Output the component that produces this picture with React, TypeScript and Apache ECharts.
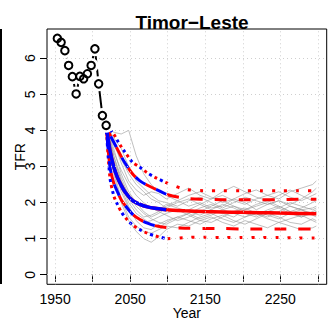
import React, { useEffect, useRef } from "react";
import * as echarts from "echarts";

const obsYears = [1953, 1958, 1963, 1968, 1973, 1978, 1983, 1988, 1993, 1998, 2003, 2008, 2013, 2018];
const obsTFR = [6.55, 6.44, 6.21, 5.8, 5.49, 5.01, 5.5, 5.43, 5.57, 5.8, 6.26, 5.29, 4.41, 4.14];

const qYears = [2018, 2023, 2028, 2033, 2038, 2043, 2053, 2063, 2073, 2083, 2098, 2123, 2148, 2173, 2198, 2223, 2248, 2273, 2298];
const median = [4.14, 3.45, 3.0, 2.7, 2.48, 2.3, 2.06, 1.95, 1.88, 1.84, 1.8, 1.77, 1.75, 1.74, 1.73, 1.72, 1.71, 1.7, 1.69];
const upper80 = [4.14, 3.88, 3.68, 3.48, 3.28, 3.1, 2.8, 2.6, 2.48, 2.38, 2.23, 2.12, 2.09, 2.08, 2.08, 2.08, 2.08, 2.09, 2.09];
const lower80 = [4.14, 3.0, 2.55, 2.3, 2.08, 1.93, 1.68, 1.53, 1.43, 1.36, 1.31, 1.29, 1.28, 1.28, 1.27, 1.27, 1.27, 1.27, 1.27];
const upper95 = [4.14, 4.02, 3.9, 3.72, 3.55, 3.4, 3.12, 2.98, 2.82, 2.7, 2.55, 2.37, 2.33, 2.33, 2.33, 2.33, 2.33, 2.33, 2.33];
const lower95 = [4.14, 2.7, 2.2, 1.95, 1.75, 1.6, 1.38, 1.25, 1.15, 1.08, 1.0, 1.03, 1.04, 1.03, 1.03, 1.03, 1.03, 1.02, 1.02];
const blueEndYear = 2098;

const trajYears = [2018, 2028, 2038, 2048, 2058, 2068, 2078, 2088, 2098, 2113, 2128, 2143, 2158, 2173, 2188, 2203, 2218, 2233, 2248, 2263, 2278, 2293, 2298];
const traj1 = [4.14, 3.95, 3.9, 4.0, 3.3, 2.8, 2.5, 2.3, 2.2, 2.05, 1.9, 2.0, 1.85, 1.9, 2.1, 2.0, 1.8, 1.95, 2.05, 1.9, 1.8, 1.85, 1.9];
const traj2 = [4.14, 3.1, 2.4, 1.9, 1.5, 1.3, 1.25, 1.4, 1.5, 1.6, 1.7, 1.55, 1.65, 1.8, 1.7, 1.6, 1.75, 1.65, 1.55, 1.7, 1.8, 1.7, 1.75];
const traj3 = [4.14, 3.4, 2.9, 2.5, 2.2, 2.0, 1.85, 1.75, 1.9, 2.05, 2.2, 2.3, 2.15, 2.0, 2.1, 2.25, 2.35, 2.2, 2.1, 2.3, 2.4, 2.5, 2.6];
const traj4 = [4.14, 2.8, 2.0, 1.5, 1.2, 1.0, 0.9, 1.05, 1.25, 1.4, 1.35, 1.5, 1.6, 1.45, 1.35, 1.5, 1.4, 1.3, 1.45, 1.35, 1.25, 1.3, 1.35];
const traj5 = [4.14, 3.6, 3.2, 2.8, 2.5, 2.3, 2.1, 2.0, 1.85, 1.75, 1.8, 1.95, 2.1, 2.2, 2.05, 1.95, 2.1, 2.2, 2.3, 2.15, 2.05, 2.2, 2.25];
const traj6 = [4.14, 3.0, 2.3, 1.85, 1.6, 1.45, 1.5, 1.6, 1.7, 1.8, 1.65, 1.5, 1.45, 1.6, 1.75, 1.85, 1.7, 1.6, 1.75, 1.9, 1.8, 1.65, 1.6];
const traj7 = [4.14, 3.3, 2.7, 2.2, 1.9, 1.7, 1.55, 1.45, 1.4, 1.55, 1.7, 1.85, 1.95, 1.8, 1.9, 1.75, 1.65, 1.8, 1.9, 1.75, 1.6, 1.75, 1.8];
const traj8 = [4.14, 3.7, 3.1, 2.6, 2.35, 2.2, 2.3, 2.25, 2.1, 2.25, 2.4, 2.2, 2.1, 2.3, 2.45, 2.3, 2.15, 2.05, 2.2, 2.35, 2.2, 2.05, 2.1];
const traj9 = [4.14, 2.9, 2.1, 1.6, 1.35, 1.2, 1.15, 1.25, 1.35, 1.3, 1.45, 1.6, 1.7, 1.55, 1.45, 1.6, 1.7, 1.55, 1.45, 1.55, 1.65, 1.5, 1.45];
const traj10 = [4.14, 3.2, 2.6, 2.2, 2.0, 1.9, 1.85, 1.8, 1.95, 1.85, 1.75, 1.65, 1.8, 1.95, 1.85, 1.7, 1.6, 1.75, 1.85, 2.0, 1.9, 1.8, 1.85];
const traj11 = [4.14, 3.5, 2.8, 2.3, 2.0, 1.75, 1.6, 1.7, 1.85, 2.0, 2.1, 1.95, 1.8, 1.7, 1.6, 1.8, 1.95, 2.05, 1.9, 1.75, 1.85, 2.0, 2.05];
const traj12 = [4.14, 3.1, 2.5, 2.0, 1.7, 1.55, 1.4, 1.3, 1.45, 1.6, 1.5, 1.4, 1.55, 1.65, 1.5, 1.4, 1.55, 1.7, 1.6, 1.45, 1.4, 1.55, 1.5];
const traj13 = [4.14, 3.8, 3.5, 3.0, 2.6, 2.4, 2.2, 2.05, 2.0, 1.9, 2.05, 2.15, 2.0, 1.85, 2.0, 2.15, 2.05, 1.95, 2.05, 1.95, 2.1, 2.3, 2.4];
const traj14 = [4.14, 3.3, 2.6, 2.1, 1.8, 1.6, 1.65, 1.75, 1.65, 1.5, 1.6, 1.75, 1.9, 2.05, 1.9, 1.8, 1.9, 2.0, 1.85, 1.7, 1.6, 1.7, 1.75];
const trajectories = [traj1, traj2, traj3, traj4, traj5, traj6, traj7, traj8, traj9, traj10, traj11, traj12, traj13, traj14];

const xTicks = [1950, 2000, 2050, 2100, 2150, 2200, 2250, 2300];
const xLabels = [1950, 2050, 2150, 2250];
const yTicks = [0, 1, 2, 3, 4, 5, 6];
const xMin = 1939.2;
const xMax = 2311.8;
const yMin = -0.265;
const yMax = 6.81;

const title = "Timor\u2212Leste";
const font = "'Liberation Sans', Arial, Helvetica, sans-serif";

function pairs(xs: number[], ys: number[], maxX = Infinity) {
  const out: number[][] = [];
  xs.forEach((x, i) => {
    if (x <= maxX) out.push([x, ys[i]]);
  });
  return out;
}

export default function App() {
  const ref = useRef<HTMLDivElement>(null);
  useEffect(() => {
    if (!ref.current) return;
    const chart = echarts.init(ref.current, null, { renderer: "svg" });
    const RED = "#ff0000";
    const BLUE = "#0000ff";
    const dashed = [12, 12];
    const dotted = [3, 9];

    const series: any[] = [];
    series.push({
      type: "line",
      data: [],
      silent: true,
      z: 0,
      markLine: {
        silent: true,
        symbol: "none",
        label: { show: false },
        animation: false,
        lineStyle: { color: "#cfcfcf", type: [1, 3], width: 1 },
        data: [
          ...xTicks.map((v) => ({ xAxis: v })),
          ...yTicks.map((v) => ({ yAxis: v })),
        ],
      },
    });
    trajectories.forEach((t) => {
      series.push({
        type: "line",
        data: pairs(trajYears, t),
        showSymbol: false,
        silent: true,
        z: 1,
        lineStyle: { color: "rgba(150,150,150,0.6)", width: 1 },
      });
    });
    const band = (ys: number[], color: string, type: any, width: number, offset: number, maxX: number, z: number) => ({
      type: "line",
      data: pairs(qYears, ys, maxX),
      showSymbol: false,
      smooth: 0.3,
      silent: true,
      z,
      lineStyle: { color, type, width, dashOffset: offset, cap: "butt" },
    });
    series.push(band(upper95, RED, dotted, 3, 0, Infinity, 2));
    series.push(band(lower95, RED, dotted, 3, 0, Infinity, 2));
    series.push(band(upper80, RED, dashed, 3, 0, Infinity, 2));
    series.push(band(lower80, RED, dashed, 3, 0, Infinity, 2));
    series.push(band(median, RED, "solid", 3.5, 0, Infinity, 2));
    series.push(band(upper95, BLUE, dotted, 3, 6, blueEndYear, 3));
    series.push(band(lower95, BLUE, dotted, 3, 6, blueEndYear, 3));
    series.push(band(upper80, BLUE, dashed, 3, 12, blueEndYear, 3));
    series.push(band(lower80, BLUE, dashed, 3, 12, blueEndYear, 3));
    series.push(band(median, BLUE, "solid", 3.5, 0, blueEndYear, 3));
    // observed: line with gaps around points (R type "b")
    series.push({
      type: "line",
      data: pairs(obsYears, obsTFR),
      showSymbol: false,
      silent: true,
      z: 5,
      lineStyle: { color: "#000", width: 2 },
    });
    series.push({
      type: "scatter",
      data: pairs(obsYears, obsTFR),
      symbol: "circle",
      symbolSize: 15,
      silent: true,
      z: 6,
      itemStyle: { color: "#fff", opacity: 1 },
    });
    series.push({
      type: "scatter",
      data: pairs(obsYears, obsTFR),
      symbol: "circle",
      symbolSize: 7.5,
      silent: true,
      z: 7,
      itemStyle: { color: "transparent", borderColor: "#000", borderWidth: 2, opacity: 1 },
    });

    chart.setOption({
      animation: false,
      title: {
        text: title,
        left: 187,
        top: 8,
        textAlign: "center",
        textStyle: { fontFamily: font, fontWeight: "bold", fontSize: 19, color: "#000" },
      },
      grid: {
        left: 47,
        right: 1.3,
        top: 29,
        bottom: 37.7,
        show: true,
        borderColor: "#000",
        borderWidth: 1,
        backgroundColor: "transparent",
        containLabel: false,
        outerBoundsMode: "none",
      },
      xAxis: {
        type: "value",
        min: xMin,
        max: xMax,
        name: "Year",
        nameLocation: "middle",
        nameGap: 22,
        nameMoveOverlap: false,
        nameTextStyle: { fontFamily: font, fontSize: 14, color: "#000" },
        axisLine: { show: false },
        splitLine: { show: false },
        axisTick: { show: true, length: 7, customValues: xTicks, lineStyle: { color: "#000", width: 1 } },
        axisLabel: {
          customValues: xLabels,
          formatter: (v: number) => String(Math.round(v)),
          fontFamily: font,
          fontSize: 14,
          color: "#000",
          margin: 8,
        },
      },
      yAxis: {
        type: "value",
        min: yMin,
        max: yMax,
        name: "TFR",
        nameLocation: "middle",
        nameGap: 20,
        nameRotate: 90,
        nameMoveOverlap: false,
        nameTextStyle: { fontFamily: font, fontSize: 14, color: "#000" },
        axisLine: { show: false },
        splitLine: { show: false },
        axisTick: { show: true, length: 7, customValues: yTicks, lineStyle: { color: "#000", width: 1 } },
        axisLabel: {
          customValues: yTicks,
          formatter: (v: number) => String(Math.round(v)),
          rotate: 90,
          fontFamily: font,
          fontSize: 14,
          color: "#000",
          margin: 10,
        },
      },
      graphic: [
        { type: "rect", shape: { x: 0, y: 29, width: 2, height: 255 }, style: { fill: "#000" }, silent: true },
      ],
      series,
    });
    return () => chart.dispose();
  }, []);
  return <div ref={ref} style={{ width: 328, height: 322, position: "absolute", left: 0, top: 0 }} />;
}
